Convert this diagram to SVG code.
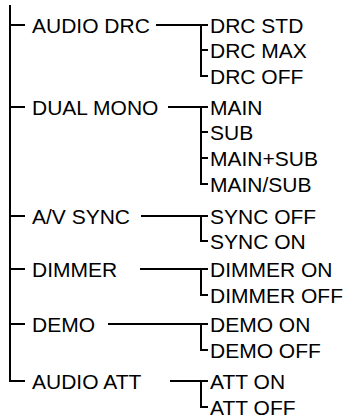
<svg xmlns="http://www.w3.org/2000/svg" width="350" height="420" viewBox="0 0 350 420">
<style>
text{font-family:"Liberation Sans",Arial,sans-serif;font-size:21px;fill:#000}
.c path{fill:none;stroke:#000;stroke-width:2;stroke-linejoin:miter}
</style>
<rect width="350" height="420" fill="#fff"/>
<g class="c" id="connectors">
<path d="M10,5 V381 H25"/>
<path d="M10,25 H25 M10,107 H25 M10,216 H25 M10,269 H25 M10,324 H25"/>
<path d="M156,25 H208 M201,25 V76 H208 M201,50 H208"/>
<path d="M168,107 H208 M201,107 V184 H208 M201,132 H208 M201,158 H208"/>
<path d="M141,216 H208 M201,216 V241 H208"/>
<path d="M140,269 H208 M201,269 V295 H208"/>
<path d="M108,324 H208 M201,324 V350 H208"/>
<path d="M170,381 H208 M201,381 V407 H208"/>
</g>
<g id="audio-drc"><text x="32" y="33">AUDIO DRC</text></g>
<g id="drc-std"><text x="210" y="33">DRC STD</text></g>
<g id="drc-max"><text x="210" y="58">DRC MAX</text></g>
<g id="drc-off"><text x="210" y="84">DRC OFF</text></g>
<g id="dual-mono"><text x="32" y="115">DUAL MONO</text></g>
<g id="main"><text x="210" y="115">MAIN</text></g>
<g id="sub"><text x="210" y="140">SUB</text></g>
<g id="main-plus-sub"><text x="210" y="166">MAIN+SUB</text></g>
<g id="main-slash-sub"><text x="210" y="192">MAIN/SUB</text></g>
<g id="av-sync"><text x="32" y="224">A/V SYNC</text></g>
<g id="sync-off"><text x="210" y="224">SYNC OFF</text></g>
<g id="sync-on"><text x="210" y="249">SYNC ON</text></g>
<g id="dimmer"><text x="32" y="277">DIMMER</text></g>
<g id="dimmer-on"><text x="210" y="277">DIMMER ON</text></g>
<g id="dimmer-off"><text x="210" y="303">DIMMER OFF</text></g>
<g id="demo"><text x="32" y="332">DEMO</text></g>
<g id="demo-on"><text x="210" y="332">DEMO ON</text></g>
<g id="demo-off"><text x="210" y="358">DEMO OFF</text></g>
<g id="audio-att"><text x="32" y="389">AUDIO ATT</text></g>
<g id="att-on"><text x="210" y="389">ATT ON</text></g>
<g id="att-off"><text x="210" y="415">ATT OFF</text></g>
</svg>
